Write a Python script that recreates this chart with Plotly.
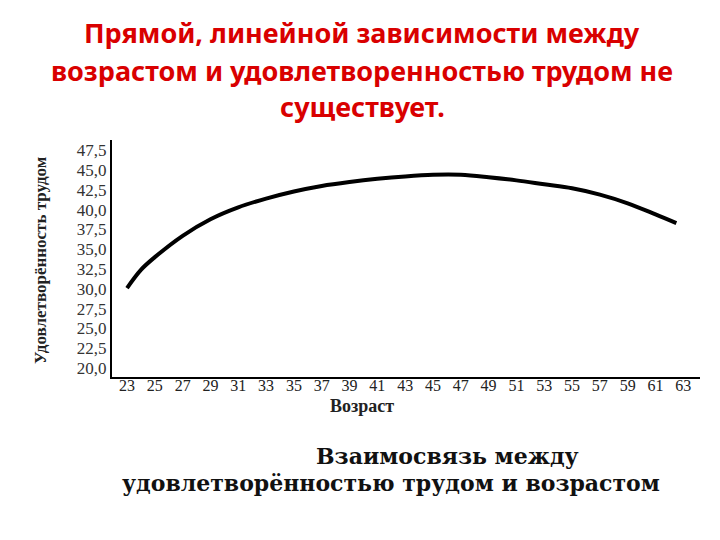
import plotly.graph_objects as go

ages = [23, 24, 25, 27, 29, 31, 33, 35, 37, 39, 41, 43, 45, 47, 49, 51, 53, 55, 57, 59, 61, 62.5]
satisfaction = [30.1, 32.4, 34.0, 36.7, 38.8, 40.3, 41.4, 42.3, 43.0, 43.5, 43.9, 44.2, 44.4, 44.4, 44.1, 43.7, 43.2, 42.7, 41.9, 40.8, 39.4, 38.3]

x_ticks = list(range(23, 64, 2))
y_ticks = [20.0, 22.5, 25.0, 27.5, 30.0, 32.5, 35.0, 37.5, 40.0, 42.5, 45.0, 47.5]
y_ticktext = [f"{v:.1f}".replace(".", ",") for v in y_ticks]

title_lines = [
    "Прямой, линейной зависимости между",
    "возрастом и удовлетворенностью трудом не",
    "существует.",
]
caption_lines = ["Взаимосвязь между", "удовлетворённостью трудом и возрастом"]
x_title = "Возраст"
y_title = "Удовлетворённость трудом"

fig = go.Figure()
fig.add_trace(go.Scatter(
    x=ages, y=satisfaction, mode="lines",
    line=dict(color="black", width=4, shape="spline", smoothing=1.0),
    hoverinfo="skip", showlegend=False,
))

serif = "Liberation Serif, Times New Roman, serif"
wide_serif = "DejaVu Serif, serif"
OFF = 8  # page body margin
W, H = 720 - OFF, 540 - OFF
L, T = 112 - OFF, 140 - OFF
R = W - (700 - OFF)
B = H - (377 - OFF)
pw, ph = W - L - R, H - T - B


def px(xr):
    return (xr - OFF - L) / pw


def py(yr):
    return (H - B - (yr - OFF)) / ph


fig.update_layout(
    width=W, height=H,
    margin=dict(l=L, r=R, t=T, b=B, autoexpand=False),
    paper_bgcolor="white", plot_bgcolor="white",
    showlegend=False,
    xaxis=dict(
        range=[21.92, 64.2], tickmode="array", tickvals=x_ticks,
        ticktext=[str(t) for t in x_ticks], automargin=False,
        showgrid=False, zeroline=False, showline=True, linecolor="black", linewidth=2,
        ticks="", ticklabelstandoff=-7,
        tickfont=dict(family=serif, size=16, color="#222"),
    ),
    yaxis=dict(
        range=[18.86, 48.8], tickmode="array", tickvals=y_ticks, ticktext=y_ticktext,
        showgrid=False, zeroline=False, showline=True, linecolor="black", linewidth=2,
        automargin=False,
        ticks="", tickfont=dict(family=serif, size=17, color="#333"),
    ),
)

fig.add_annotation(
    text=f"<b>{y_title}</b>", xref="paper", yref="paper",
    x=px(40), y=py(260), textangle=-90,
    showarrow=False, xanchor="center", yanchor="middle",
    font=dict(family=serif, size=17, color="#222"),
)
fig.add_annotation(
    text=f"<b>{x_title}</b>", xref="paper", yref="paper",
    x=px(362), y=py(406),
    showarrow=False, xanchor="center", yanchor="middle",
    font=dict(family=serif, size=18, color="#222"),
)

title_y = [33, 70, 106]
for txt, yr in zip(title_lines, title_y):
    fig.add_annotation(
        text=f"<b>{txt}</b>", xref="paper", yref="paper",
        x=px(362), y=py(yr),
        showarrow=False, xanchor="center", yanchor="middle",
        font=dict(family="Noto Sans, Open Sans, sans-serif", size=27, color="#d90000"),
    )

cap_pos = [(447, 456), (391, 483)]
for txt, (xr, yr) in zip(caption_lines, cap_pos):
    fig.add_annotation(
        text=f"<b>{txt}</b>", xref="paper", yref="paper",
        x=px(xr), y=py(yr),
        showarrow=False, xanchor="center", yanchor="middle",
        font=dict(family=wide_serif, size=22, color="#111"),
    )

fig.write_html("out.html")
